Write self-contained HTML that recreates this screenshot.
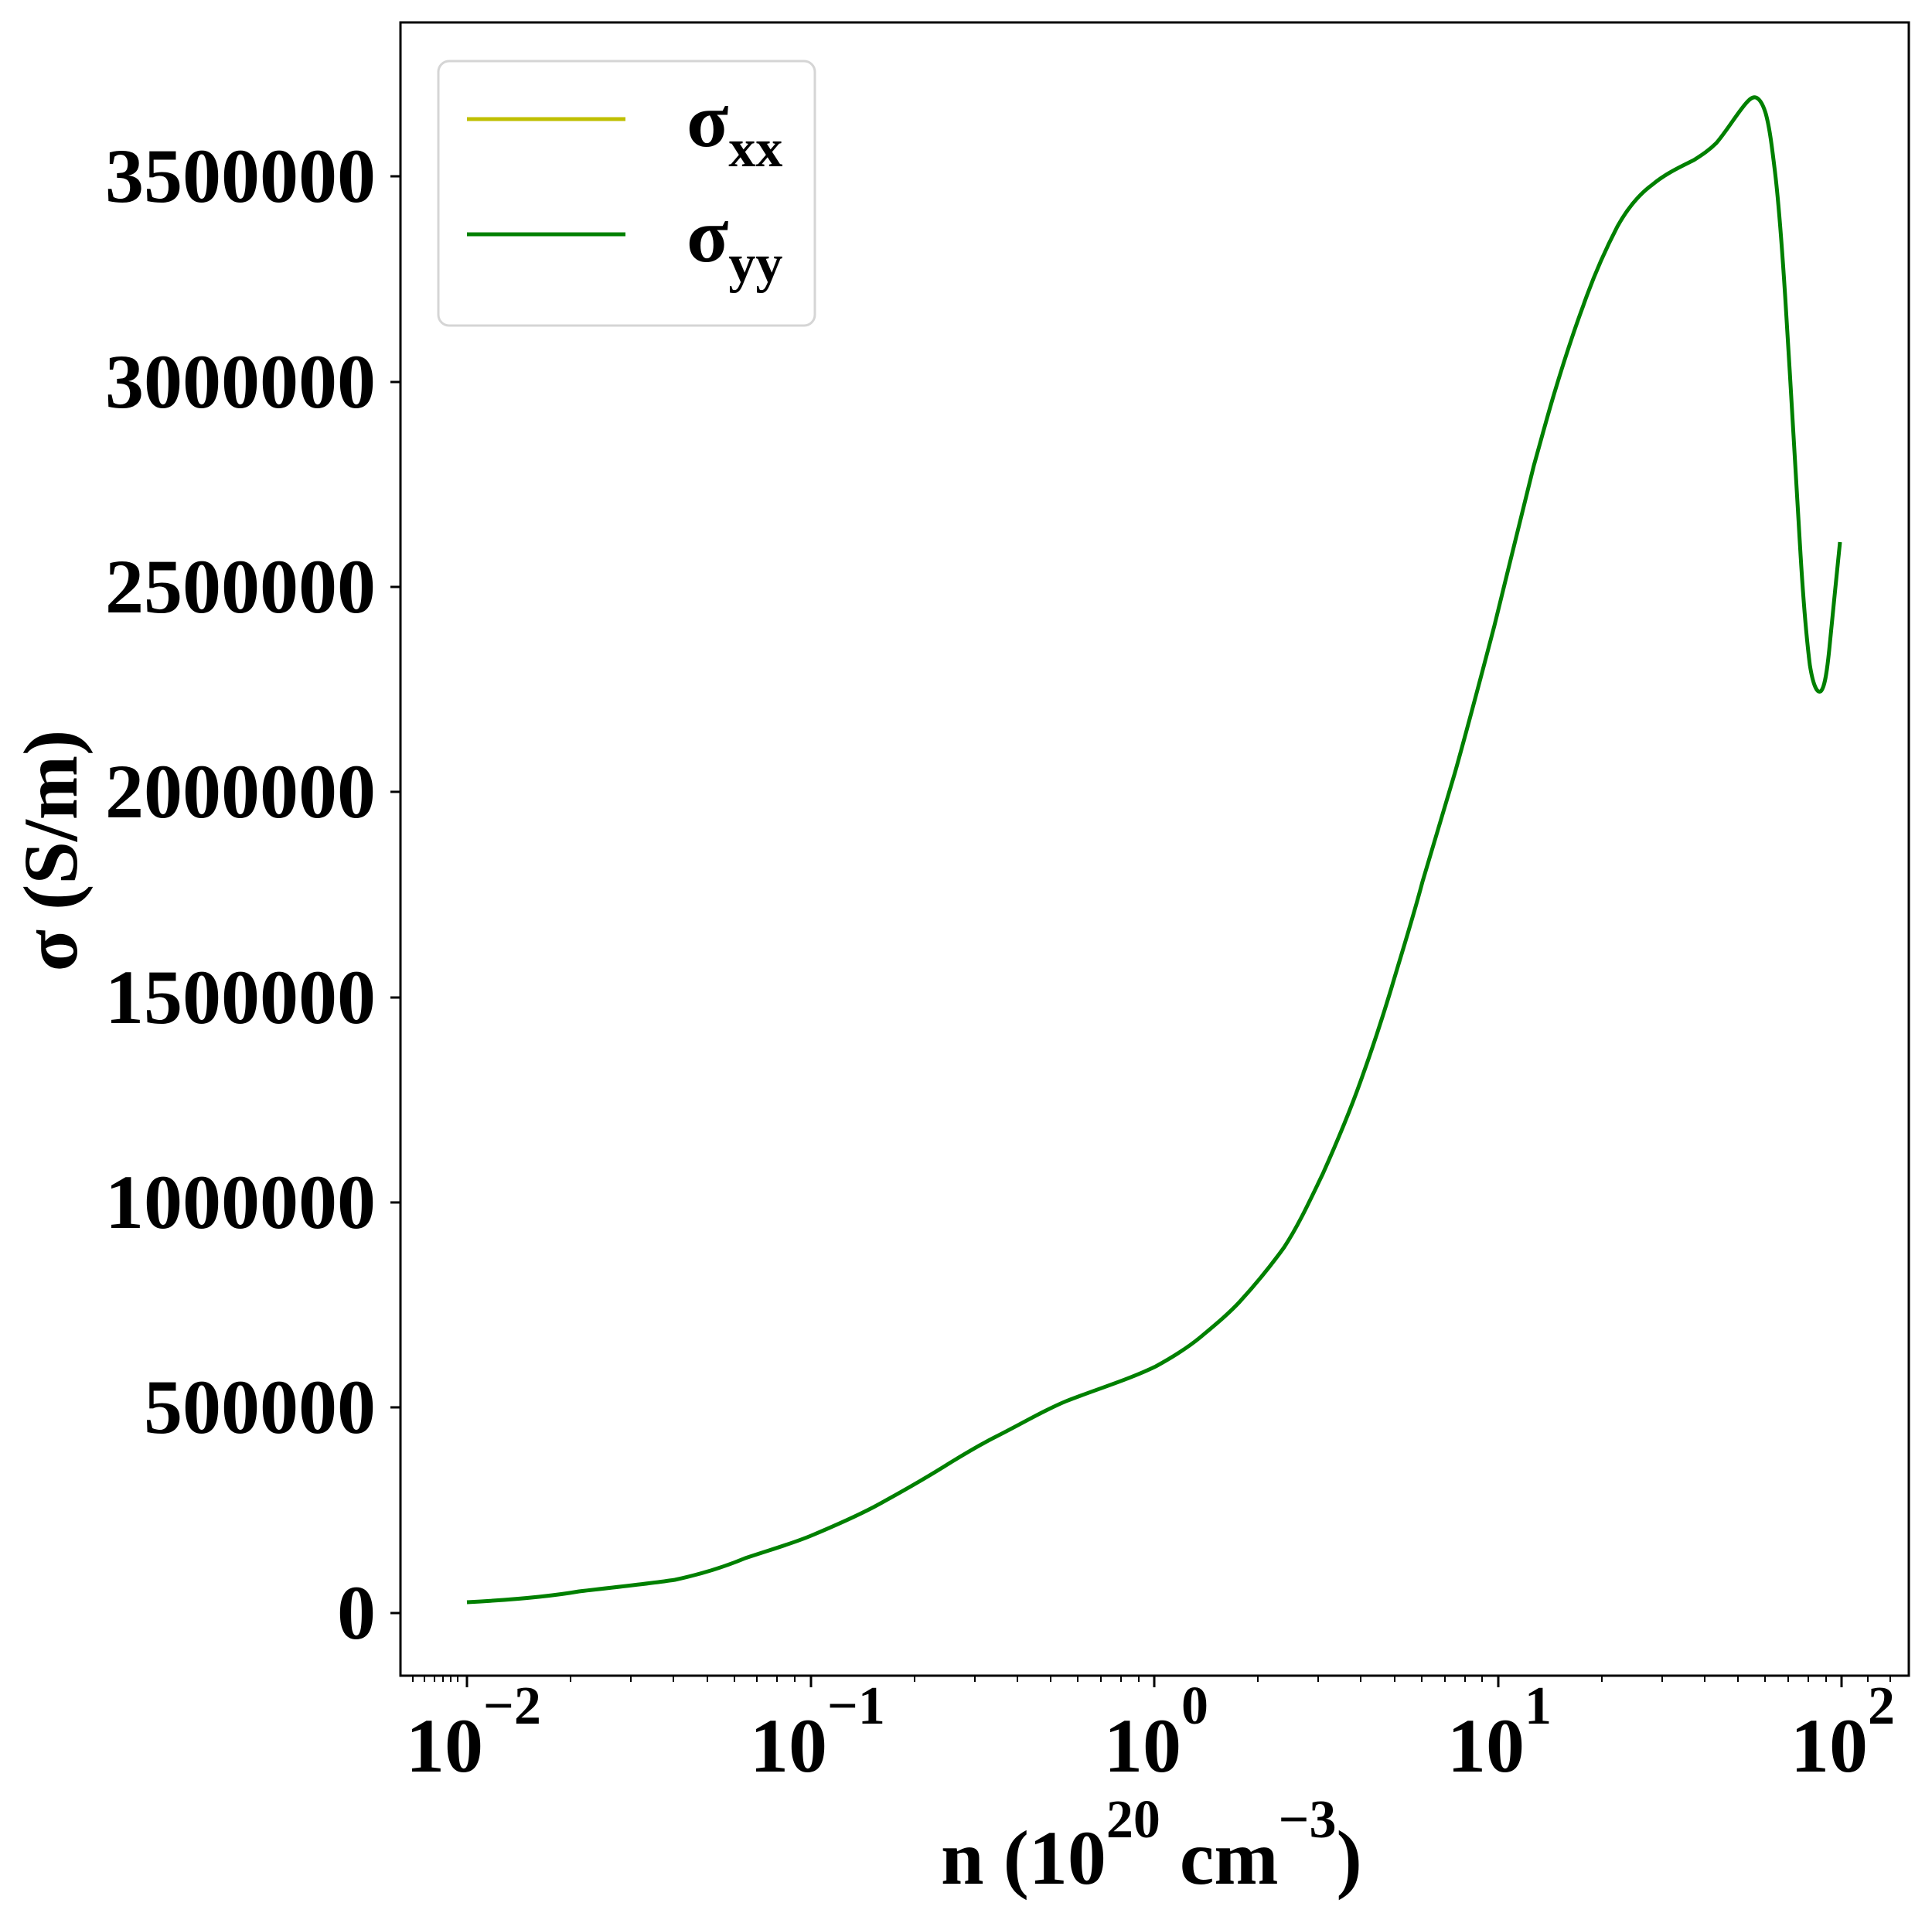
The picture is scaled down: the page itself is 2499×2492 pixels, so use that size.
<!DOCTYPE html>
<html><head><meta charset="utf-8"><style>
html,body{margin:0;padding:0;background:#fff;}
svg{display:block;font-family:"Liberation Serif",serif;font-weight:bold;}
</style></head><body>
<svg width="2499" height="2492" viewBox="0 0 2499 2492" xmlns="http://www.w3.org/2000/svg">
<rect x="0" y="0" width="2499" height="2492" fill="#fff"/>
<path d="M604,2072 C680,2068 720,2063 749,2058 C800,2052 840,2048 873,2043 C910,2035 940,2025 964,2015 C1000,2003 1025,1996 1049,1986 C1080,1973 1105,1962 1130,1949 C1165,1930 1200,1910 1230,1891 C1250,1879 1268,1868 1288,1858 C1320,1842 1350,1824 1379,1812 C1420,1796 1460,1784 1495,1767 C1515,1756 1535,1744 1553,1729 C1572,1713 1588,1700 1603,1684 C1625,1660 1643,1638 1661,1613 C1680,1584 1695,1551 1711,1518 C1728,1480 1745,1440 1760,1398 C1773,1362 1787,1320 1800,1277 C1812,1236 1828,1186 1840,1140 C1855,1090 1868,1046 1882,999 C1900,935 1917,870 1933,809 C1950,740 1967,670 1984,602 C1993,570 2001,540 2010,510 C2022,470 2035,430 2048,395 C2062,355 2077,322 2092,293 C2107,266 2122,250 2137,239 C2155,224 2175,215 2191,207 C2202,200 2211,194 2220,185 C2233,170 2246,148 2258,134 C2263,128 2267,125 2271,126 C2277,128 2281,137 2284,147 C2289,165 2292,190 2296,223 C2301,265 2305,320 2309,382 C2316,490 2322,610 2328,701 C2332,770 2336,820 2341,860 C2345,885 2350,897 2355,894 C2360,890 2363,870 2366,841 C2371,790 2375,750 2380,701" fill="none" stroke="#008000" stroke-width="5"/>
<rect x="518" y="29" width="1951" height="2138" fill="none" stroke="#000" stroke-width="3"/>
<g stroke="#000" stroke-width="3">
<line x1="505" y1="2086" x2="518" y2="2086"/>
<line x1="505" y1="1820" x2="518" y2="1820"/>
<line x1="505" y1="1555" x2="518" y2="1555"/>
<line x1="505" y1="1290" x2="518" y2="1290"/>
<line x1="505" y1="1024" x2="518" y2="1024"/>
<line x1="505" y1="759" x2="518" y2="759"/>
<line x1="505" y1="494" x2="518" y2="494"/>
<line x1="505" y1="228" x2="518" y2="228"/>
</g>
<g font-size="100" text-anchor="end">
<text x="486" y="2119">0</text>
<text x="486" y="1853">500000</text>
<text x="486" y="1588">1000000</text>
<text x="486" y="1323">1500000</text>
<text x="486" y="1057">2000000</text>
<text x="486" y="792">2500000</text>
<text x="486" y="527">3000000</text>
<text x="486" y="261">3500000</text>
</g>
<g stroke="#000" stroke-width="3">
<line x1="604" y1="2167" x2="604" y2="2182"/>
<line x1="1049" y1="2167" x2="1049" y2="2182"/>
<line x1="1493" y1="2167" x2="1493" y2="2182"/>
<line x1="1938" y1="2167" x2="1938" y2="2182"/>
<line x1="2382" y1="2167" x2="2382" y2="2182"/>
</g>
<g stroke="#000" stroke-width="2">
<line x1="534" y1="2167" x2="534" y2="2175"/><line x1="549" y1="2167" x2="549" y2="2175"/><line x1="562" y1="2167" x2="562" y2="2175"/><line x1="573" y1="2167" x2="573" y2="2175"/><line x1="583" y1="2167" x2="583" y2="2175"/><line x1="592" y1="2167" x2="592" y2="2175"/>
<line x1="738" y1="2167" x2="738" y2="2175"/><line x1="816" y1="2167" x2="816" y2="2175"/><line x1="871" y1="2167" x2="871" y2="2175"/><line x1="915" y1="2167" x2="915" y2="2175"/><line x1="950" y1="2167" x2="950" y2="2175"/><line x1="979" y1="2167" x2="979" y2="2175"/><line x1="1005" y1="2167" x2="1005" y2="2175"/><line x1="1028" y1="2167" x2="1028" y2="2175"/>
<line x1="1183" y1="2167" x2="1183" y2="2175"/><line x1="1261" y1="2167" x2="1261" y2="2175"/><line x1="1316" y1="2167" x2="1316" y2="2175"/><line x1="1359" y1="2167" x2="1359" y2="2175"/><line x1="1394" y1="2167" x2="1394" y2="2175"/><line x1="1424" y1="2167" x2="1424" y2="2175"/><line x1="1450" y1="2167" x2="1450" y2="2175"/><line x1="1473" y1="2167" x2="1473" y2="2175"/>
<line x1="1627" y1="2167" x2="1627" y2="2175"/><line x1="1705" y1="2167" x2="1705" y2="2175"/><line x1="1760" y1="2167" x2="1760" y2="2175"/><line x1="1804" y1="2167" x2="1804" y2="2175"/><line x1="1839" y1="2167" x2="1839" y2="2175"/><line x1="1869" y1="2167" x2="1869" y2="2175"/><line x1="1895" y1="2167" x2="1895" y2="2175"/><line x1="1917" y1="2167" x2="1917" y2="2175"/>
<line x1="2072" y1="2167" x2="2072" y2="2175"/><line x1="2150" y1="2167" x2="2150" y2="2175"/><line x1="2205" y1="2167" x2="2205" y2="2175"/><line x1="2248" y1="2167" x2="2248" y2="2175"/><line x1="2283" y1="2167" x2="2283" y2="2175"/><line x1="2313" y1="2167" x2="2313" y2="2175"/><line x1="2339" y1="2167" x2="2339" y2="2175"/><line x1="2362" y1="2167" x2="2362" y2="2175"/><line x1="2416" y1="2167" x2="2416" y2="2175"/><line x1="2445" y1="2167" x2="2445" y2="2175"/>
</g>
<g font-size="100">
<text x="525" y="2291">10<tspan font-size="70" dy="-62">−2</tspan></text>
<text x="970" y="2291">10<tspan font-size="70" dy="-62">−1</tspan></text>
<text x="1428" y="2291">10<tspan font-size="70" dy="-62">0</tspan></text>
<text x="1872" y="2291">10<tspan font-size="70" dy="-62">1</tspan></text>
<text x="2316" y="2291">10<tspan font-size="70" dy="-62">2</tspan></text>
</g>
<text x="1217" y="2436" font-size="100">n (10<tspan font-size="70" dy="-60">20</tspan><tspan dy="60"> cm</tspan><tspan font-size="70" dy="-60">−3</tspan><tspan dy="60">)</tspan></text>
<text transform="translate(99,1100) rotate(-90)" font-size="100" text-anchor="middle">σ (S/m)</text>
<rect x="567" y="79" width="487" height="342" rx="14" fill="#fff" stroke="#d5d5d5" stroke-width="3"/>
<line x1="604" y1="154" x2="809" y2="154" stroke="#bfbf00" stroke-width="5"/>
<line x1="604" y1="303" x2="809" y2="303" stroke="#008000" stroke-width="5"/>
<text x="888" y="189" font-size="100">σ<tspan font-size="70" dy="26">xx</tspan></text>
<text x="888" y="338" font-size="100">σ<tspan font-size="70" dy="26">yy</tspan></text>
</svg>
</body></html>
